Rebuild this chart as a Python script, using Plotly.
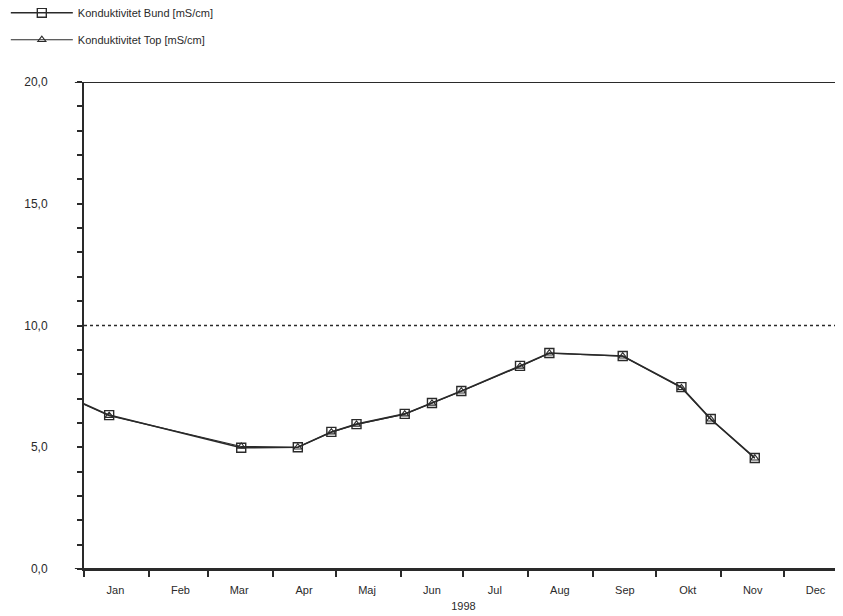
import plotly.graph_objects as go

# ---- data ----
dates = ["1997-12-16", "1998-01-13", "1998-03-17", "1998-04-13", "1998-04-29",
         "1998-05-11", "1998-06-03", "1998-06-16", "1998-06-30", "1998-07-28",
         "1998-08-11", "1998-09-15", "1998-10-13", "1998-10-27", "1998-11-17"]
bund = [7.40, 6.32, 4.98, 5.00, 5.63, 5.95, 6.37, 6.82, 7.31, 8.34, 8.87, 8.75, 7.47, 6.16, 4.56]
top = [7.38, 6.30, 5.03, 5.00, 5.62, 5.94, 6.36, 6.80, 7.30, 8.32, 8.86, 8.74, 7.44, 6.15, 4.55]
series_names = ["Konduktivitet Bund [mS/cm]", "Konduktivitet Top [mS/cm]"]
limit_value = 10.0
month_labels = ["Jan", "Feb", "Mar", "Apr", "Maj", "Jun", "Jul", "Aug", "Sep", "Okt", "Nov", "Dec"]
month_starts = ["1998-%02d-01" % m for m in range(1, 13)]
month_mids = ["1998-%02d-16" % m for m in range(1, 13)]
year_label = "1998"
x_range = ["1998-01-01", "1998-12-29 02:00"]
y_range = [0, 20]

INK = "#2a2a2a"
FONT = "Liberation Sans"

fig = go.Figure()
fig.add_trace(go.Scatter(
    x=dates, y=bund, name=series_names[0], mode="lines+markers",
    line=dict(color=INK, width=1.6),
    marker=dict(symbol="square-open", size=9, color=INK, line=dict(width=1.4)),
    legendgroup="a"))
fig.add_trace(go.Scatter(
    x=dates, y=top, name=series_names[1], mode="lines+markers",
    line=dict(color=INK, width=1.2),
    marker=dict(symbol="triangle-up-open", size=7, color=INK, line=dict(width=1.1)),
    legendgroup="b"))

# threshold line
fig.add_shape(type="line", xref="paper", yref="y", x0=0, x1=1, y0=limit_value, y1=limit_value,
              line=dict(color=INK, width=1.3, dash="3px,3px"))
# frame lines extending left of axis
for yv in (y_range[0], y_range[1]):
    fig.add_shape(type="line", xref="paper", yref="y", x0=-0.012, x1=1, y0=yv, y1=yv,
                  line=dict(color=INK, width=2))

fig.update_layout(
    width=843, height=616,
    margin=dict(l=76, r=8, t=74, b=55, autoexpand=False),
    paper_bgcolor="white", plot_bgcolor="white",
    separators=",.",
    font=dict(family=FONT, size=11, color=INK),
    showlegend=True,
    legend=dict(xref="paper", yref="paper", x=-0.103, y=1.172, xanchor="left", yanchor="top",
                itemwidth=62, tracegroupgap=8, traceorder="grouped",
                font=dict(family=FONT, size=11, color=INK), bgcolor="rgba(0,0,0,0)"),
    xaxis=dict(
        type="date", range=x_range,
        tickmode="array", tickvals=month_mids, ticktext=month_labels,
        ticks="", ticklabelstandoff=10,
        showline=True, linecolor=INK, linewidth=2,
        showgrid=False, zeroline=False,
        minor=dict(tickmode="array", tickvals=month_starts, ticks="outside",
                   ticklen=6, tickwidth=2, tickcolor=INK, showgrid=False),
        title=dict(text=year_label, standoff=7, font=dict(family=FONT, size=11, color=INK)),
        tickfont=dict(family=FONT, size=11, color=INK),
        automargin=False,
    ),
    yaxis=dict(
        range=y_range, tickmode="array", tickvals=[0, 5, 10, 15, 20], tickformat=".1f",
        ticks="outside", ticklen=5, tickwidth=2, tickcolor=INK, ticklabelstandoff=27,
        showline=True, linecolor=INK, linewidth=2,
        showgrid=False, zeroline=False,
        minor=dict(tickmode="linear", tick0=0, dtick=1, ticks="outside", ticklen=5,
                   tickwidth=2, tickcolor=INK, showgrid=False),
        tickfont=dict(family=FONT, size=12, color=INK),
        automargin=False,
    ),
)

fig.write_html("out.html")
